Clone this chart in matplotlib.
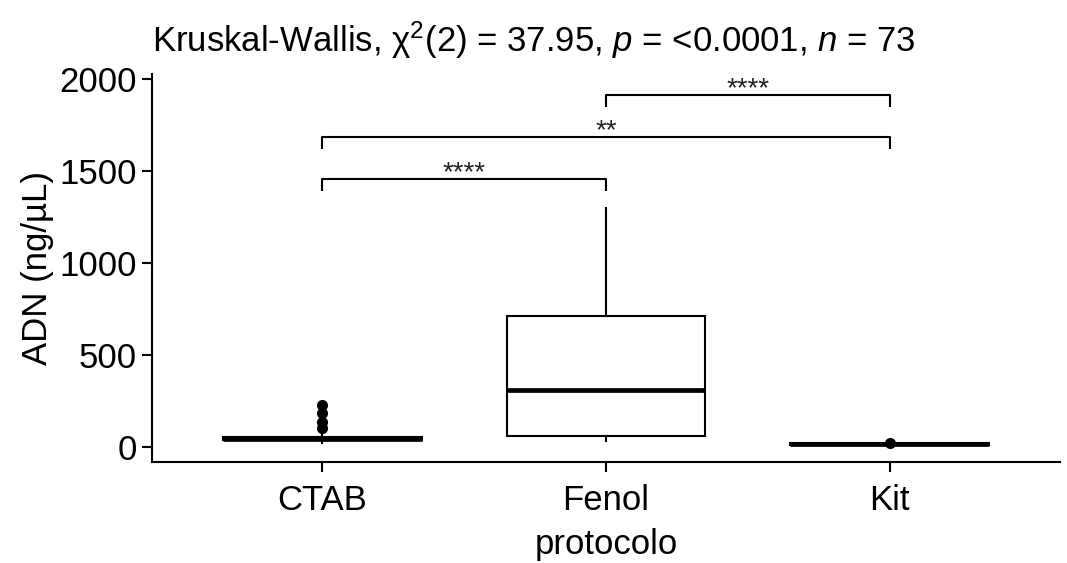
import matplotlib
matplotlib.use("Agg")
import matplotlib.pyplot as plt

plt.rcParams["font.family"] = ["Liberation Sans", "DejaVu Sans"]
plt.rcParams["mathtext.fontset"] = "custom"
plt.rcParams["mathtext.rm"] = "Liberation Sans"
plt.rcParams["mathtext.it"] = "Liberation Sans:italic"

# data
groups = ["CTAB", "Fenol", "Kit"]
q1 = [36, 60, 9]
med = [45, 311, 14]
q3 = [54, 714, 19]
whis_lo = [22, 30, 4]
whis_hi = [78, 1297, 24]
fliers = [[104, 136, 185, 229], [], [22]]

# pairwise comparisons
pairs = [(1, 2), (1, 3), (2, 3)]
pair_y = [1455, 1684, 1913]
pair_lab = ["****", "**", "****"]

title = (r"Kruskal-Wallis, $\mathrm{\chi}^2$(2) = 37.95, $\it{p}$ = <0.0001, "
         r"$\it{n}$ = 73")

fig = plt.figure(figsize=(10.67, 5.63), dpi=100)
ax = fig.add_axes([0.1425, 0.1794, 0.851, 0.69])

stats = []
for i, g in enumerate(groups):
    stats.append(dict(label=g, q1=q1[i], med=med[i], q3=q3[i],
                      whislo=whis_lo[i], whishi=whis_hi[i], fliers=fliers[i]))

ax.bxp(stats, positions=[1, 2, 3], widths=0.7, patch_artist=True,
       showcaps=False,
       boxprops=dict(facecolor="white", edgecolor="black", linewidth=1.5),
       medianprops=dict(color="black", linewidth=3.4),
       whiskerprops=dict(color="black", linewidth=1.5),
       flierprops=dict(marker="o", markerfacecolor="black",
                       markeredgecolor="black", markersize=7))

# significance brackets
tick = 65
for (a, b), y, lab in zip(pairs, pair_y, pair_lab):
    ax.plot([a, a, b, b], [y - tick, y, y, y - tick], color="black",
            lw=1.5, solid_capstyle="butt")
    ax.text((a + b) / 2, y - 6, lab, ha="center", va="baseline",
            fontsize=20, color="#222222")

ax.set_xlim(0.4, 3.6)
ax.set_ylim(-82, 2030)
ax.set_yticks([0, 500, 1000, 1500, 2000])
ax.set_xticks([1, 2, 3])
ax.set_xticklabels(groups)

for s in ["top", "right"]:
    ax.spines[s].set_visible(False)
for s in ["left", "bottom"]:
    ax.spines[s].set_linewidth(1.5)
ax.tick_params(axis="both", labelsize=25, width=1.5, length=7,
               colors="black", pad=4)
ax.tick_params(axis="x", pad=9)

ax.set_xlabel("protocolo", fontsize=25, labelpad=8)
ax.set_ylabel("ADN (ng/µL)", fontsize=25, labelpad=4)
ax.set_title(title, fontsize=25, pad=16, loc="left")

fig.savefig("out.png", dpi=100)
